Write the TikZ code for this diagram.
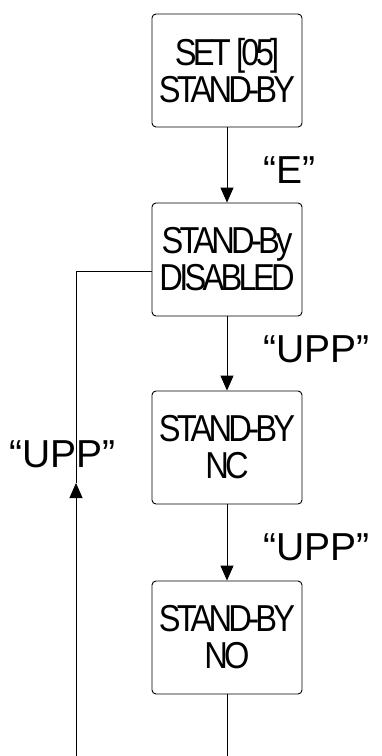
\documentclass[tikz,border=0pt]{standalone}
\usepackage{fontspec}
\setmainfont{Liberation Sans}
\newfontfamily\boxfont[FakeStretch=0.87,LetterSpace=-10]{Liberation Sans}
\usetikzlibrary{arrows.meta}
\tikzset{
  statebox/.style={draw, line width=0.9pt, rounded corners=4pt, minimum width=150pt, minimum height=113pt, align=center, inner sep=0pt, font=\boxfont\fontsize{37.5}{37}\selectfont},
  lbl/.style={font=\fontsize{39}{40}\selectfont, inner sep=0pt},
  conn/.style={line width=0.9pt},
  tip/.style={-{Triangle[length=15pt,width=13pt]}}
}
\begin{document}
\begin{tikzpicture}[x=1pt,y=-1pt]
\useasboundingbox (0,0) rectangle (382,756);
\node[statebox] (b1) at (227,70.5) {SET [05]\\STAND-BY};
\node[statebox] (b2) at (227,259.5) {STAND-By\\DISABLED};
\node[statebox] (b3) at (227,447.5) {STAND-BY\\NC};
\node[statebox] (b4) at (227,637.5) {STAND-BY\\NO};
\draw[conn,tip] (b1) -- (b2);
\draw[conn,tip] (b2) -- (b3);
\draw[conn,tip] (b3) -- (b4);
\coordinate (bot4) at (227,756);
\draw[conn] (b4) -- (bot4);
\coordinate (lb) at (76,756);
\coordinate (la) at (76,483);
\coordinate (lc) at (76,271);
\draw[conn,tip] (lb) -- (la);
\draw[conn] (la) -- (lc) -- (lc -| b2.west);
\node[lbl,anchor=base west] (e) at (263,183) {“E”};
\node[lbl,anchor=base west] (u1) at (263,362) {“UPP”};
\node[lbl,anchor=base west] (u2) at (9,467) {“UPP”};
\node[lbl,anchor=base west] (u3) at (263,560) {“UPP”};
\end{tikzpicture}
\end{document}
